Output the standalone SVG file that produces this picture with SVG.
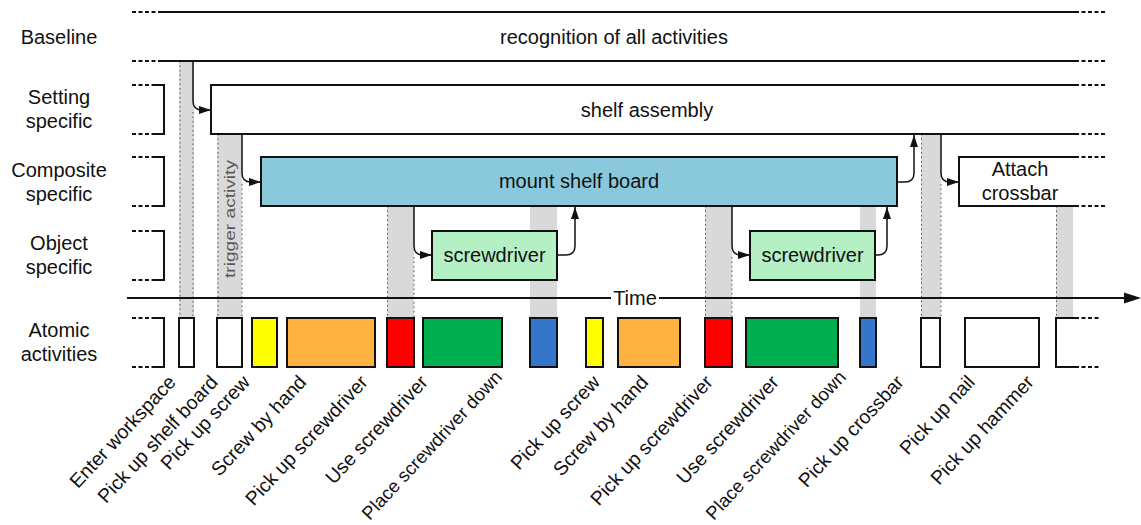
<svg xmlns="http://www.w3.org/2000/svg" width="1141" height="525" viewBox="0 0 1141 525">
<defs>
<style>
text{font-family:"Liberation Sans",Arial,sans-serif;font-size:20px;fill:#111}
.c{text-anchor:middle}
.e{text-anchor:end;font-size:19.5px}
.ln{stroke:#111;stroke-width:2;fill:none}
.dt{stroke:#111;stroke-width:2;fill:none;stroke-dasharray:4 2.5}
.bx{stroke:#111;stroke-width:2}
.band{fill:#d9d9d9}
.bd{stroke:#555;stroke-width:1;stroke-dasharray:1.5 3;fill:none}
.cn{stroke:#111;stroke-width:1.5;fill:none;marker-end:url(#ah)}
</style>
<marker id="ah" viewBox="0 0 12 8" refX="12" refY="4" markerWidth="12" markerHeight="8" markerUnits="userSpaceOnUse" orient="auto"><path d="M0,0 L12,4 L0,8 z" fill="#111"/></marker>
</defs>
<rect width="1141" height="525" fill="#fff"/>

<g id="bands">
<rect class="band" x="179" y="61" width="15" height="257"/>
<rect class="band" x="217" y="134" width="25" height="184"/>
<rect class="band" x="387" y="206" width="27" height="112"/>
<rect class="band" x="530" y="206" width="27" height="112"/>
<rect class="band" x="705" y="206" width="27" height="112"/>
<rect class="band" x="860" y="206" width="16" height="112"/>
<rect class="band" x="921" y="134" width="20" height="184"/>
<rect class="band" x="1056" y="206" width="17" height="112"/>
<path class="bd" d="M180,61 V318 M193,112 V318 M218,134 V318 M242,184 V318 M387.5,206 V318 M414,257 V318 M705.5,206 V318 M732,257 V318 M921.5,134 V318 M941,184 V318 M1056.5,206 V318"/>
<text transform="translate(234.5,278) rotate(-90)" style="font-size:15px;fill:#595959" textLength="118" lengthAdjust="spacingAndGlyphs">trigger activity</text>
</g>

<g id="row-labels">
<text class="c" x="59" y="43.5">Baseline</text>
<text class="c" x="59" y="104">Setting</text>
<text class="c" x="59" y="128">specific</text>
<text class="c" x="59" y="176.5">Composite</text>
<text class="c" x="59" y="200.5">specific</text>
<text class="c" x="59" y="250">Object</text>
<text class="c" x="59" y="274">specific</text>
<text class="c" x="59" y="337">Atomic</text>
<text class="c" x="59" y="361">activities</text>
<path class="dt" d="M132,12 H158 M132,61 H158 M132,85 H155 M132,134 H155 M132,157 H155 M132,206 H155 M132,231 H155 M132,280 H155 M132,318 H155 M132,367 H155"/>
<path class="ln" d="M155,85 H164 V134 H155 M155,157 H164 V206 H155 M155,231 H164 V280 H155 M155,318 H164 V367 H155"/>
</g>

<g id="baseline">
<path class="ln" d="M158,12 H1075 M158,61 H1075"/>
<path class="dt" d="M1075,12 H1107 M1075,61 H1107"/>
<text class="c" x="614" y="43.5">recognition of all activities</text>
</g>

<g id="shelf-assembly">
<path class="bx" fill="#fff" d="M1075,85 H211 V134 H1075"/>
<path class="dt" d="M1075,85 H1107 M1075,134 H1107"/>
<text class="c" x="647" y="116.5">shelf assembly</text>
</g>

<g id="mount-shelf-board">
<rect class="bx" x="261" y="157" width="636" height="49" fill="#8ac9db"/>
<text class="c" x="579" y="188">mount shelf board</text>
</g>

<g id="attach-crossbar">
<path class="bx" fill="#fff" d="M1075,157 H959 V206 H1075"/>
<path class="dt" d="M1075,157 H1107 M1075,206 H1107"/>
<text class="c" x="1020" y="176">Attach</text>
<text class="c" x="1020" y="199.5">crossbar</text>
</g>

<g id="screwdriver-1">
<rect class="bx" x="432" y="231" width="125" height="49" fill="#b4f0c4"/>
<text class="c" x="494.5" y="262">screwdriver</text>
</g>
<g id="screwdriver-2">
<rect class="bx" x="750" y="231" width="125" height="49" fill="#b4f0c4"/>
<text class="c" x="812.5" y="262">screwdriver</text>
</g>

<g id="time-axis">
<path class="ln" d="M127,298 H1127"/>
<path d="M1124,292.5 L1141,298 L1124,303.5 z" fill="#111"/>
<rect x="611" y="289" width="48" height="18" fill="#fff"/>
<text class="c" x="635" y="304.5">Time</text>
</g>

<g id="atomic">
<g id="a-enter-workspace"><rect class="bx" x="179" y="318" width="15" height="49" fill="#fff"/><text class="e" transform="translate(177,383) rotate(-47)">Enter workspace</text></g>
<g id="a-pick-up-shelf-board"><rect class="bx" x="217" y="318" width="25" height="49" fill="#fff"/><text class="e" transform="translate(219,383) rotate(-47)">Pick up shelf board</text></g>
<g id="a-pick-up-screw-1"><rect class="bx" x="252" y="318" width="25" height="49" fill="#ffff00"/><text class="e" transform="translate(251,383) rotate(-47)">Pick up screw</text></g>
<g id="a-screw-by-hand-1"><rect class="bx" x="287" y="318" width="88" height="49" fill="#ffb142"/><text class="e" transform="translate(307.5,383) rotate(-47)">Screw by hand</text></g>
<g id="a-pick-up-screwdriver-1"><rect class="bx" x="387" y="318" width="27" height="49" fill="#ff0000"/><text class="e" transform="translate(369,383) rotate(-47)">Pick up screwdriver</text></g>
<g id="a-use-screwdriver-1"><rect class="bx" x="423" y="318" width="79" height="49" fill="#00b050"/><text class="e" transform="translate(429,383) rotate(-47)">Use screwdriver</text></g>
<g id="a-place-screwdriver-down-1"><rect class="bx" x="530" y="318" width="27" height="49" fill="#3476cc"/><text class="e" transform="translate(503,378) rotate(-47)" style="font-size:18.5px">Place screwdriver down</text></g>
<g id="a-pick-up-screw-2"><rect class="bx" x="586" y="318" width="17" height="49" fill="#ffff00"/><text class="e" transform="translate(601,383) rotate(-47)">Pick up screw</text></g>
<g id="a-screw-by-hand-2"><rect class="bx" x="618" y="318" width="62" height="49" fill="#ffb142"/><text class="e" transform="translate(649.5,383) rotate(-47)">Screw by hand</text></g>
<g id="a-pick-up-screwdriver-2"><rect class="bx" x="705" y="318" width="27" height="49" fill="#ff0000"/><text class="e" transform="translate(714,383) rotate(-47)">Pick up screwdriver</text></g>
<g id="a-use-screwdriver-2"><rect class="bx" x="746" y="318" width="92" height="49" fill="#00b050"/><text class="e" transform="translate(780,383) rotate(-47)">Use screwdriver</text></g>
<g id="a-place-screwdriver-down-2"><rect class="bx" x="860" y="318" width="16" height="49" fill="#3476cc"/><text class="e" transform="translate(847,378) rotate(-47)" style="font-size:18.5px">Place screwdriver down</text></g>
<g id="a-pick-up-crossbar"><rect class="bx" x="921" y="318" width="19" height="49" fill="#fff"/><text class="e" transform="translate(905,383) rotate(-47)">Pick up crossbar</text></g>
<g id="a-pick-up-nail"><rect class="bx" x="965" y="318" width="74" height="49" fill="#fff"/><text class="e" transform="translate(976,383) rotate(-47)">Pick up nail</text></g>
<g id="a-pick-up-hammer"><path class="bx" fill="#fff" d="M1075,318 H1056 V367 H1075"/><path class="dt" d="M1075,318 H1101 M1075,367 H1101"/><text class="e" transform="translate(1035,383) rotate(-47)">Pick up hammer</text></g>
</g>

<g id="connectors">
<path class="cn" d="M193,61 V101 Q193,110 202,110 H211"/>
<path class="cn" d="M242,134 V173 Q242,182 251,182 H261"/>
<path class="cn" d="M414,206 V246 Q414,255 423,255 H432"/>
<path class="cn" d="M557,255 H566 Q575,255 575,246 V207"/>
<path class="cn" d="M732,206 V246 Q732,255 741,255 H750"/>
<path class="cn" d="M875,255 H878 Q887,255 887,246 V207"/>
<path class="cn" d="M897,182 H905 Q914,182 914,173 V135"/>
<path class="cn" d="M941,134 V173 Q941,182 950,182 H959"/>
</g>
</svg>
